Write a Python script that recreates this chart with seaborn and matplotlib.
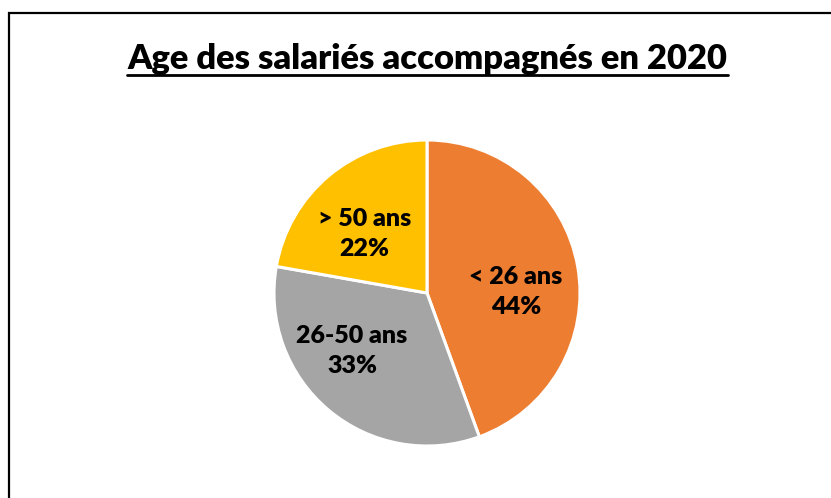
import matplotlib
matplotlib.use("Agg")
import matplotlib.pyplot as plt
import seaborn as sns
from matplotlib.patches import Rectangle
from matplotlib.lines import Line2D

sns.set_theme(style="white")
plt.rcParams['font.family'] = ['Lato', 'DejaVu Sans']

categories = ["< 26 ans", "26-50 ans", "> 50 ans"]
values = [44, 33, 22]
colors = ["#ED7D31", "#A5A5A5", "#FFC000"]
title = "Age des salariés accompagnés en 2020"

W, H = 831, 498
fig = plt.figure(figsize=(W / 100, H / 100), dpi=100)
fig.patch.set_facecolor("white")

# outer frame (cropped on right and bottom)
fig.add_artist(Rectangle((9 / W, -0.05), 1.2, (H - 13) / H + 0.05,
                         transform=fig.transFigure, fill=False,
                         edgecolor="black", linewidth=1.6))

cx, cy, r = 427, 293, 153
ax = fig.add_axes([(cx - r) / W, (H - cy - r) / H, 2 * r / W, 2 * r / H])
labels = [f"{c}\n{v}%" for c, v in zip(categories, values)]
wedges, texts = ax.pie(values, colors=colors, startangle=90, counterclock=False,
                       labels=labels, labeldistance=0.59,
                       wedgeprops=dict(edgecolor="white", linewidth=2.2),
                       textprops=dict(fontsize=18, fontweight="heavy", color="black",
                                      linespacing=1.45))
# label placement (Excel "best fit" style, relative to radius)
label_pos = [(0.58, 0.005), (-0.49, -0.38), (-0.41, 0.385)]
for t, p in zip(texts, label_pos):
    t.set_position(p)
    t.set_ha("center")
    t.set_va("center")
ax.set_xlim(-1, 1)
ax.set_ylim(-1, 1)
ax.axis("off")

t = fig.text(427.5 / W, 1 - 59 / H, title, ha="center", va="center",
             fontsize=20, fontweight="heavy", color="black")
fig.canvas.draw()
rend = fig.canvas.get_renderer()
bb = t.get_window_extent(rend)
t.set_fontsize(20 * 600 / bb.width)
fig.canvas.draw()
bb = t.get_window_extent(rend)
y_ul = (H - 75) / H
fig.add_artist(Line2D([bb.x0 / W, bb.x1 / W], [y_ul, y_ul], transform=fig.transFigure,
                      color="black", linewidth=2))

fig.savefig("out.png", dpi=100)
